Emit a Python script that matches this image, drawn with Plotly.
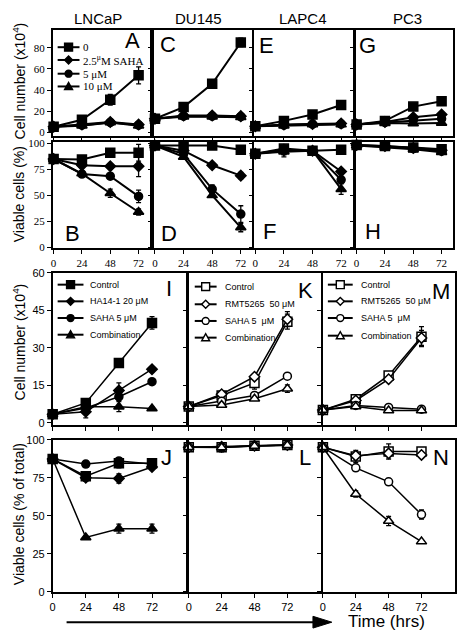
import plotly.graph_objects as go

W, H = 460, 638
t = [0, 24, 48, 72]

# ---------- Top section: SAHA doses 0, 2.5, 5, 10 µM ----------
dose_labels = ["0", "2.5<sup>μ</sup>M SAHA", "5 μM", "10 μM"]
# Cell number (x10^4)
A_vals = [[5.5, 12, 31, 54], [5.5, 7.5, 10, 7.5], [5.5, 7, 9.5, 7], [5.5, 6.5, 9.5, 6.5]]
A_errs = [[1, 1.5, 5, 8], [0.5, 0.5, 0.8, 0.5], [0.5, 0.5, 0.8, 0.5], [0.5, 0.5, 0.8, 0.5]]
C_vals = [[13, 24, 46, 85], [13, 16, 16, 15.5], [13, 15.5, 15.5, 15], [13, 15, 15, 14.5]]
C_errs = [[1, 1.5, 4, 4], [0.5, 0.5, 0.5, 0.5], [0.5, 0.5, 0.5, 0.5], [0.5, 0.5, 0.5, 0.5]]
E_vals = [[6, 11, 17, 26], [6, 7.5, 8, 8.5], [6, 7, 8, 8], [6, 6.5, 7.5, 7.5]]
E_errs = [[0.5, 0.8, 0.8, 1], [0.5, 0.5, 0.5, 0.5], [0.5, 0.5, 0.5, 0.5], [0.5, 0.5, 0.5, 0.5]]
G_vals = [[7.5, 11, 24.5, 29.5], [7.5, 10, 14.5, 17], [7.5, 9.5, 11.5, 13], [7.5, 9, 8.5, 9]]
G_errs = [[0.5, 1, 1.5, 2], [0.5, 0.5, 0.8, 1], [0.5, 0.5, 0.8, 1], [0.5, 0.5, 0.5, 0.8]]
# Viable cells (%)
B_vals = [[85, 84.5, 91, 91], [85, 79, 78, 78], [85, 70.5, 68.5, 49], [85, 71, 52, 34]]
B_errs = [[1, 1.5, 1.5, 8], [1, 1, 1, 10], [1, 1.5, 1, 6], [1, 2, 4, 3]]
D_vals = [[98, 98, 98, 94], [98, 93, 79, 69], [98, 90, 56, 32], [98, 87, 50, 19]]
D_errs = [[1, 1, 1, 1], [1, 1, 1, 3], [1, 1, 4, 8], [1, 1.5, 2, 4]]
F_vals = [[90, 95, 93, 94], [90, 94, 93, 73], [90, 93, 93, 65], [90, 92, 93, 56]]
F_errs = [[1, 2, 1, 1], [1, 4, 1, 2], [1, 4, 1, 3], [1, 5, 1, 5]]
Hh_vals = [[98.5, 97.5, 96, 94.5], [98.5, 97.5, 95.5, 93.5], [98, 97, 95, 92.5], [98, 96.5, 94.5, 91.5]]
Hh_errs = [[1, 1, 1, 1], [1, 1, 1, 1], [1, 1, 1, 1], [1, 1, 1, 1]]

# ---------- Lower section ----------
I_labels = ["Control", "HA14-1 20 μM", "SAHA 5 μM", "Combination"]
KM_labels = ["Control", "RMT5265  50 μM", "SAHA 5  μM", "Combination"]
I_vals = [[3.5, 8, 24, 40], [3.5, 4.5, 13, 21.5], [3.5, 6, 10.5, 16.5], [3.5, 6.5, 6.5, 5.8]]
I_errs = [[0.5, 1, 1, 2.5], [0.5, 2.5, 3, 1], [0.5, 1, 1.5, 0.5], [0.5, 0.5, 2, 0.5]]
K_vals = [[6.6, 11, 16, 40.5], [6.6, 11.5, 18.5, 41.5], [6.6, 8.7, 11, 18.7], [6.6, 7.2, 9.7, 13.7]]
K_errs = [[0.5, 1, 2.5, 3], [0.5, 1, 1, 3], [0.5, 0.5, 0.5, 0.5], [0.5, 1, 0.5, 1.5]]
M_vals = [[5.2, 9.5, 19, 34.5], [5.2, 9, 17.5, 34], [5.2, 7, 6.2, 5.5], [5.2, 6.6, 5, 5]]
M_errs = [[0.5, 1.5, 1, 4], [0.5, 1, 1, 3], [0.5, 0.5, 0.5, 0.5], [0.5, 0.5, 0.5, 0.5]]
J_vals = [[87.3, 76, 84.5, 84.5], [87.3, 75, 74.5, 82], [87.3, 84, 86, 84], [87.3, 35.7, 41.5, 41.5]]
J_errs = [[1, 3, 3, 2], [1, 2, 3, 1], [1, 2, 2, 1], [1, 1, 3, 3]]
L_vals = [[95, 95, 96, 96.5], [95, 95.3, 96, 96.5], [95, 95, 95.8, 96.3], [95, 94.8, 95.8, 96.3]]
L_errs = [[2, 3, 1.5, 1], [1, 2, 1, 1], [1, 2, 1, 1], [1, 2, 1, 1]]
N_vals = [[95, 89, 92.3, 92.3], [95, 89.5, 91, 90], [95, 81.5, 72.3, 50.8], [95, 64.3, 46.5, 33]]
N_errs = [[1, 4, 5, 2], [1, 2, 2, 2], [1, 2, 2, 3], [1, 2, 3, 1]]

top_y_ticks = [0, 20, 40, 60, 80]
pct_ticks = [0, 25, 50, 75, 100]
mid_y_ticks = [0, 15, 30, 45, 60]
x_ticks = [0, 24, 48, 72]

SERIF = "Liberation Serif, Times New Roman, serif"
SANS = "Liberation Sans, Arial, sans-serif"

symbols = ["square", "diamond", "circle", "triangle-up"]


def dx(a, b):
    return [a / W, b / W]


def dy(top, bot):
    return [1 - bot / H, 1 - top / H]


def px(x):
    return x / W


def py(y):
    return 1 - y / H


fig = go.Figure()
layout = {}
annotations = []
shapes = []

top_xr = [-0.8, 81.7]
mid_xr = [0, 96.5]
panels = [
    (A_vals, A_errs, (50, 148), (24, 132), top_xr, [-2.8, 97.2], top_y_ticks, False, True, SERIF, False, [9, 8, 8, 9], 2),
    (C_vals, C_errs, (152, 251), (24, 132), top_xr, [-2.8, 97.2], top_y_ticks, False, False, SERIF, False, [9, 8, 8, 9], 2),
    (E_vals, E_errs, (253, 352), (24, 132), top_xr, [-2.8, 97.2], top_y_ticks, False, False, SERIF, False, [9, 8, 8, 9], 2),
    (G_vals, G_errs, (355, 453), (24, 132), top_xr, [-2.8, 97.2], top_y_ticks, False, False, SERIF, False, [9, 8, 8, 9], 2),
    (B_vals, B_errs, (50, 148), (139, 247), top_xr, [-1, 101], pct_ticks, True, True, SERIF, False, [9, 8, 8, 9], 2),
    (D_vals, D_errs, (152, 251), (139, 247), top_xr, [-1, 101], pct_ticks, True, False, SERIF, False, [9, 8, 8, 9], 2),
    (F_vals, F_errs, (253, 352), (139, 247), top_xr, [-1, 101], pct_ticks, True, False, SERIF, False, [9, 8, 8, 9], 2),
    (Hh_vals, Hh_errs, (355, 453), (139, 247), top_xr, [-1, 101], pct_ticks, True, False, SERIF, False, [9, 8, 8, 9], 2),
    (I_vals, I_errs, (50, 184), (272, 427), mid_xr, [-0.8, 60], mid_y_ticks, False, True, SANS, False, [9, 8, 8, 9], 1.5),
    (K_vals, K_errs, (187, 320), (272, 427), mid_xr, [-0.8, 60], mid_y_ticks, False, False, SANS, True, [9, 8, 8, 9], 1.5),
    (M_vals, M_errs, (322, 455), (272, 427), mid_xr, [-0.8, 60], mid_y_ticks, False, False, SANS, True, [9, 8, 8, 9], 1.5),
    (J_vals, J_errs, (50, 184), (442, 597), mid_xr, [0, 100], pct_ticks, True, True, SANS, False, [9, 8, 8, 9], 1.5),
    (L_vals, L_errs, (187, 320), (442, 597), mid_xr, [0, 100], pct_ticks, True, False, SANS, True, [9, 8, 8, 9], 1.5),
    (N_vals, N_errs, (322, 455), (442, 597), mid_xr, [0, 100], pct_ticks, True, False, SANS, True, [9, 8, 8, 9], 1.5),
]

for n, (vals, errs, xd, yd, xr, yr, yt, sxl, syl, fnt, opn, msz, lw) in enumerate(panels, start=1):
    xa = "xaxis" if n == 1 else f"xaxis{n}"
    ya = "yaxis" if n == 1 else f"yaxis{n}"
    xref = "x" if n == 1 else f"x{n}"
    yref = "y" if n == 1 else f"y{n}"
    common = dict(showline=True, mirror=True, linecolor="black", linewidth=1.6,
                  ticks="outside", ticklen=4, tickwidth=1.4, tickcolor="black",
                  showgrid=False, zeroline=False, tickfont=dict(family=fnt, size=11, color="black"))
    layout[xa] = dict(domain=dx(*xd), range=xr, anchor=yref, tickvals=x_ticks,
                      showticklabels=sxl, **common)
    layout[ya] = dict(domain=dy(*yd), range=yr, anchor=xref, tickvals=yt,
                      showticklabels=syl, **common)
    for s in range(4):
        fig.add_trace(go.Scatter(
            x=t, y=vals[s], xaxis=xref, yaxis=yref, mode="lines+markers",
            line=dict(color="black", width=lw),
            marker=dict(symbol=symbols[s], size=msz[s],
                        color="white" if opn else "black",
                        line=dict(color="black", width=1.5)),
            error_y=dict(type="data", array=errs[s], color="black", thickness=1.3, width=2.5),
            cliponaxis=False, showlegend=False, hoverinfo="skip"))


# ---------- manual legends ----------
def marker_shape(cx, cy, sym, size, filled):
    h = size / 2
    fill = "black" if filled else "white"
    base = dict(xref="paper", yref="paper", fillcolor=fill, line=dict(color="black", width=1.4), layer="above")
    if sym == "square":
        return dict(type="rect", x0=px(cx - h), x1=px(cx + h), y0=py(cy + h), y1=py(cy - h), **base)
    if sym == "circle":
        return dict(type="circle", x0=px(cx - h), x1=px(cx + h), y0=py(cy + h), y1=py(cy - h), **base)
    if sym == "diamond":
        pts = [(cx - h, cy), (cx, cy - h), (cx + h, cy), (cx, cy + h)]
    else:
        pts = [(cx - h, cy + h * 0.8), (cx + h, cy + h * 0.8), (cx, cy - h)]
    path = "M " + " L ".join(f"{px(a):.5f},{py(b):.5f}" for a, b in pts) + " Z"
    return dict(type="path", path=path, **base)


def add_legend(labels, rows, x0, x1, xtext, font, fsize, filled, sizes):
    for lab, ry, sym, sz in zip(labels, rows, ["square", "diamond", "circle", "triangle"], sizes):
        shapes.append(dict(type="line", xref="paper", yref="paper", x0=px(x0), x1=px(x1),
                           y0=py(ry), y1=py(ry), line=dict(color="black", width=2)))
        shapes.append(marker_shape((x0 + x1) / 2, ry, sym, sz, filled))
        annotations.append(dict(text=lab, x=px(xtext), y=py(ry), xref="paper", yref="paper",
                                xanchor="left", yanchor="middle", showarrow=False,
                                font=dict(family=font, size=fsize, color="black")))


add_legend(dose_labels, [42, 55, 69, 82], 55, 77, 79, SERIF, 11, True, [8, 8, 7, 8])
add_legend(I_labels, [284, 301, 318, 335], 55, 81, 86, SANS, 9, True, [8, 8, 7, 8])
add_legend(KM_labels, [286, 304, 321, 338], 193, 215, 221, SANS, 9, False, [8, 8, 7, 8])
add_legend(KM_labels, [284, 301, 318, 336], 327, 352, 358, SANS, 9, False, [8, 8, 7, 8])

# ---------- panel letters ----------
letters = [("A", 130, 35), ("C", 166, 39), ("E", 265, 40), ("G", 367, 40),
           ("B", 70, 232), ("D", 167, 232), ("F", 268, 230), ("H", 372, 230),
           ("I", 167, 288), ("K", 304, 290), ("M", 441, 291),
           ("J", 165, 460), ("L", 304, 460), ("N", 441, 460)]
for s, x, y in letters:
    annotations.append(dict(text=s, x=px(x), y=py(y), xref="paper", yref="paper",
                            xanchor="center", yanchor="middle", showarrow=False,
                            font=dict(family=SANS, size=22, color="black")))

# ---------- column titles ----------
for s, x in [("LNCaP", 96), ("DU145", 197), ("LAPC4", 302), ("PC3", 407)]:
    annotations.append(dict(text=s, x=px(x), y=py(13), xref="paper", yref="paper",
                            xanchor="center", yanchor="middle", showarrow=False,
                            font=dict(family=SANS, size=15, color="black")))

# ---------- y-axis titles ----------
for s, y in [("Cell number (x10<sup>4</sup>)", 76), ("Viable cells (%)", 192),
             ("Cell number (x10<sup>4</sup>)", 342), ("Viable cells (% of total)", 518)]:
    annotations.append(dict(text=s, x=px(16), y=py(y), xref="paper", yref="paper",
                            xanchor="center", yanchor="middle", showarrow=False, textangle=-90,
                            font=dict(family=SANS, size=14, color="black")))

# ---------- time arrow ----------
shapes.append(dict(type="line", xref="paper", yref="paper", x0=px(64), x1=px(316),
                   y0=py(628), y1=py(628), line=dict(color="black", width=2)))
shapes.append(dict(type="path", xref="paper", yref="paper",
                   path=f"M {px(312):.5f},{py(622):.5f} L {px(331):.5f},{py(628):.5f} L {px(312):.5f},{py(634):.5f} Z",
                   fillcolor="black", line=dict(color="black", width=1)))
annotations.append(dict(text="Time (hrs)", x=px(386), y=py(627), xref="paper", yref="paper",
                        xanchor="center", yanchor="middle", showarrow=False,
                        font=dict(family=SANS, size=17, color="black")))

fig.update_layout(width=W, height=H, margin=dict(l=0, r=0, t=0, b=0),
                  paper_bgcolor="white", plot_bgcolor="white", showlegend=False,
                  hovermode=False,
                  annotations=annotations, shapes=shapes, **layout)

fig.write_html("out.html", config={"displayModeBar": False},
               post_script="document.body.style.margin='0';document.body.style.overflow='hidden';")
